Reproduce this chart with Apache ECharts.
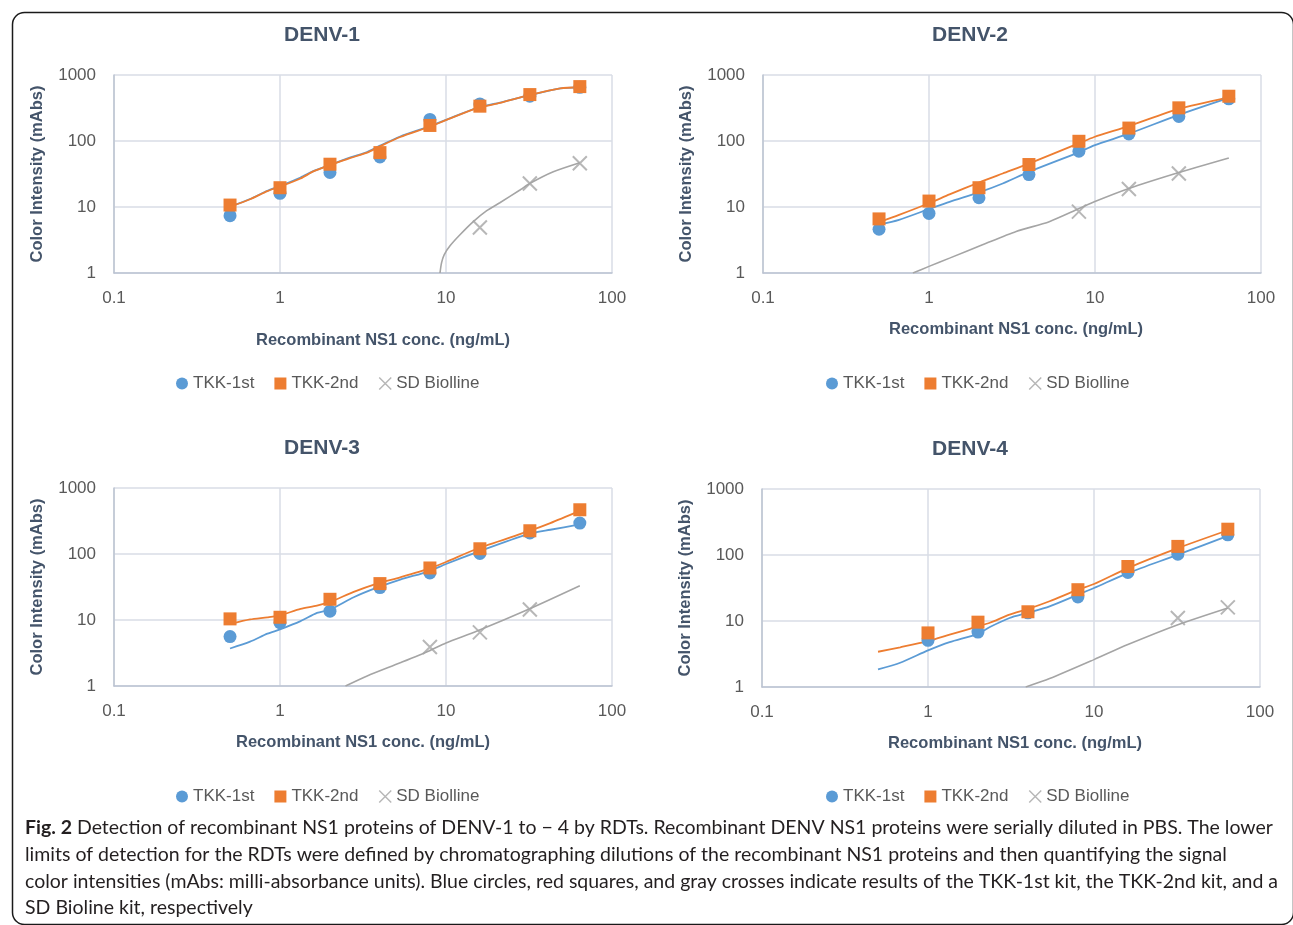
<!DOCTYPE html>
<html><head><meta charset="utf-8">
<script src="https://cdn.jsdelivr.net/npm/echarts@6/dist/echarts.min.js"></script>
<style>html,body{margin:0;padding:0;background:#fff}#c{width:1293px;height:925px}</style>
</head><body><div id="c"></div>
<script>
// ---- Data ----
const panelTitles = ['DENV-1', 'DENV-2', 'DENV-3', 'DENV-4'];
const seriesNames = ['TKK-1st', 'TKK-2nd', 'SD Biolline'];
const xTickLabels = ['0.1', '1', '10', '100'];
const yTickLabels = ['1', '10', '100', '1000'];

const conc = [0.5, 1, 2, 4, 8, 16, 32, 64];
const conc4 = [1, 2, 4, 8, 16, 32, 64];

// DENV-1
const d1Tkk1 = [7.4, 16.1, 33.3, 57.4, 212, 365, 477, 650];
const d1Tkk2 = [10.7, 19.6, 44.5, 66.7, 172, 337, 505, 667];
const d1SdX = [16, 32, 64];
const d1Sd = [4.9, 22.7, 46];
const d1FitX = [0.5, 0.66, 0.84, 1, 1.33, 1.6, 2, 2.66, 3.35, 4, 5.3, 7.9, 9.9, 15.4, 21.2, 32, 48.8, 64];
const d1Fit1 = [10.1, 13.2, 17.6, 20.8, 28, 35.2, 43.5, 56.5, 68, 85, 117, 166, 207, 318, 383, 496, 625, 650];
const d1Fit2 = [10.1, 13.1, 17.4, 20.3, 27, 34.9, 43, 55.4, 66.7, 83, 115, 163, 205, 315, 378, 499, 629, 652];
const d1SdFitX = [9.2, 9.4, 9.73, 10.6, 12.1, 14.6, 17.6, 21.1, 27.9, 32.1, 44.3, 64];
const d1SdFit = [1, 1.42, 1.87, 2.6, 3.76, 6.0, 8.8, 11.6, 18.1, 22.9, 34.3, 47];

// DENV-2
const d2Tkk1 = [4.6, 8.0, 13.8, 31, 70, 128, 235, 435];
const d2Tkk2 = [6.6, 12.3, 19.6, 44, 99, 157, 318, 477];
const d2SdX = [8, 16, 32];
const d2Sd = [8.5, 18.7, 32.2];
const d2FitX = [0.5, 0.66, 1, 1.33, 2, 2.78, 4, 7.9, 9.9, 16, 32, 64];
const d2Fit1 = [5.4, 6.4, 9.3, 12, 16.6, 22.7, 34.1, 66.7, 86, 129, 249, 450];
const d2Fit2 = [5.9, 7.6, 11.4, 15.5, 23.5, 32.2, 45.5, 91, 115, 168, 307, 460];
const d2SdFitX = [0.8, 1, 1.33, 2.1, 3.35, 5.3, 7.9, 9.9, 16, 32, 64];
const d2SdFit = [1, 1.26, 1.68, 2.67, 4.25, 6.0, 9.3, 12, 19.1, 33.3, 55.4];

// DENV-3
const d3Tkk1 = [5.6, 9.1, 13.6, 31, 51.6, 102, 208, 294];
const d3Tkk2 = [10.4, 11.0, 20.6, 35.6, 61.4, 120, 225, 468];
const d3SdX = [8, 16, 32];
const d3Sd = [3.9, 6.5, 14.4];
const d3FitX = [0.5, 0.66, 0.84, 1, 1.33, 1.67, 2, 2.78, 3.8, 5.3, 7.9, 10, 15.4, 31.2, 42.5, 64];
const d3Fit1 = [3.7, 4.7, 6.2, 7.2, 9.6, 12.8, 14.4, 22.1, 30.6, 41, 54.7, 70.6, 107, 200, 233, 280];
const d3Fit2 = [8.7, 10.2, 11.0, 11.8, 14.7, 16.5, 18.8, 26.6, 35.2, 44.4, 60, 75.7, 120, 220, 294, 450];
const d3SdFitX = [2.48, 3.35, 5.3, 7.9, 10, 15.4, 31.2, 64];
const d3SdFit = [1, 1.42, 2.25, 3.4, 4.5, 6.8, 14.4, 33];

// DENV-4
const d4Tkk1 = [5.1, 6.8, 13.3, 23.1, 54.5, 103, 202];
const d4Tkk2 = [6.6, 9.6, 13.8, 29.8, 67, 135, 246];
const d4SdX = [32, 64];
const d4Sd = [11.1, 16.1];
const d4FitX = [0.5, 0.68, 1, 1.35, 2, 2.36, 3.1, 4, 5.4, 8, 10, 16, 32, 64];
const d4Fit1 = [1.85, 2.33, 3.58, 4.78, 6.4, 8.1, 11.1, 13.3, 16.7, 25.1, 31.6, 53.2, 101, 195];
const d4Fit2 = [3.42, 4.0, 4.95, 6.2, 8.3, 9.4, 12.5, 15.2, 19.9, 29.8, 36.3, 63.4, 127, 237];
const d4SdFitX = [3.88, 5.4, 10, 16, 32, 64];
const d4SdFit = [1, 1.34, 2.6, 4.4, 8.8, 15.8];

const captionLines = [
  ['Fig. 2', ' Detection of recombinant NS1 proteins of DENV-1 to \u2212 4 by RDTs. Recombinant DENV NS1 proteins were serially diluted in PBS. The lower'],
  ['', 'limits of detection for the RDTs were defined by chromatographing dilutions of the recombinant NS1 proteins and then quantifying the signal'],
  ['', 'color intensities (mAbs: milli-absorbance units). Blue circles, red squares, and gray crosses indicate results of the TKK-1st kit, the TKK-2nd kit, and a'],
  ['', 'SD Bioline kit, respectively']
];

// ---- Styling / layout ----
const BLUE = '#5b9bd5', ORANGE = '#ed7d31', GRAY = '#a5a5a5';
const FONT = '"Liberation Sans", Arial, sans-serif';
const CROSS = 'path://M0,0L1,1M1,0L0,1';

const panels = [
  {t1: d1Tkk1, t2: d1Tkk2, x1: conc, sdX: d1SdX, sd: d1Sd, fx: d1FitX, f1: d1Fit1, f2: d1Fit2, sfx: d1SdFitX, sf: d1SdFit,
   grid: {left: 114, top: 75}, title: [322, 25], xPad: 40, xGap: 59, legend: [171, 370]},
  {t1: d2Tkk1, t2: d2Tkk2, x1: conc, sdX: d2SdX, sd: d2Sd, fx: d2FitX, f1: d2Fit1, f2: d2Fit2, sfx: d2SdFitX, sf: d2SdFit,
   grid: {left: 763, top: 75}, title: [970, 25], xPad: 8, xGap: 48, legend: [821, 370]},
  {t1: d3Tkk1, t2: d3Tkk2, x1: conc, sdX: d3SdX, sd: d3Sd, fx: d3FitX, f1: d3Fit1, f2: d3Fit2, sfx: d3SdFitX, sf: d3SdFit,
   grid: {left: 114, top: 488}, title: [322, 438], xPad: 0, xGap: 48, legend: [171, 783]},
  {t1: d4Tkk1, t2: d4Tkk2, x1: conc4, sdX: d4SdX, sd: d4Sd, fx: d4FitX, f1: d4Fit1, f2: d4Fit2, sfx: d4SdFitX, sf: d4SdFit,
   grid: {left: 762, top: 489}, title: [970, 439], xPad: 8, xGap: 48, legend: [821, 783]}
];

const zip = (xs, ys) => xs.map((x, i) => [x, ys[i]]);

const option = {
  backgroundColor: '#fff',
  animation: false,
  textStyle: {fontFamily: FONT},
  title: [], grid: [], xAxis: [], yAxis: [], legend: [], series: [],
  graphic: []
};

panels.forEach((p, i) => {
  option.title.push({
    text: panelTitles[i], left: p.title[0] - 5, top: p.title[1] - 5, textAlign: 'center',
    textStyle: {fontFamily: FONT, fontSize: 21, fontWeight: 'bold', color: '#44546a'}
  });
  option.grid.push({left: p.grid.left, top: p.grid.top, width: 498, height: 198});
  const axisCommon = {
    type: 'log', logBase: 10,
    axisLine: {show: true, lineStyle: {color: '#bcc4d2', width: 1.5}},
    axisTick: {show: false},
    splitLine: {show: true, lineStyle: {color: '#d9dde6', width: 1.5}},
    nameTextStyle: {fontFamily: FONT, fontSize: 16.5, fontWeight: 'bold', color: '#44546a'}
  };
  option.xAxis.push(Object.assign({}, axisCommon, {
    gridIndex: i, min: 0.1, max: 100,
    axisLabel: {color: '#595959', fontSize: 17, margin: 17, formatter: v => xTickLabels[Math.round(Math.log10(v)) + 1]},
    name: 'Recombinant NS1 conc. (ng/mL)', nameLocation: 'middle', nameGap: p.xGap,
    nameTextStyle: {fontFamily: FONT, fontSize: 16.5, fontWeight: 'bold', color: '#44546a', padding: [0, 0, 0, p.xPad]}
  }));
  option.yAxis.push(Object.assign({}, axisCommon, {
    gridIndex: i, min: 1, max: 1000,
    axisLabel: {color: '#595959', fontSize: 17, margin: 18, formatter: v => yTickLabels[Math.round(Math.log10(v))]},
    name: 'Color Intensity (mAbs)', nameLocation: 'middle', nameGap: 68, nameRotate: 90
  }));
  option.legend.push({
    left: p.legend[0], top: p.legend[1], itemWidth: 12, itemHeight: 12, itemGap: 20,
    textStyle: {fontFamily: FONT, fontSize: 17, color: '#595959'},
    data: [
      {name: seriesNames[0], icon: 'circle'},
      {name: seriesNames[1], icon: 'rect'},
      {name: seriesNames[2], icon: CROSS, itemStyle: {color: GRAY, borderColor: GRAY, borderWidth: 1.5}}
    ]
  });
  const lineBase = {type: 'line', xAxisIndex: i, yAxisIndex: i, showSymbol: false, symbol: 'none', smooth: 0.25, silent: true};
  option.series.push(Object.assign({}, lineBase, {name: 'SD fit ' + i, data: zip(p.sfx, p.sf), lineStyle: {color: GRAY, width: 1.6}, z: 2}));
  option.series.push(Object.assign({}, lineBase, {name: 'TKK-1st fit ' + i, data: zip(p.fx, p.f1), lineStyle: {color: BLUE, width: 1.8}, z: 2}));
  option.series.push(Object.assign({}, lineBase, {name: 'TKK-2nd fit ' + i, data: zip(p.fx, p.f2), lineStyle: {color: ORANGE, width: 1.8}, z: 2}));
  option.series.push({type: 'scatter', name: seriesNames[2], xAxisIndex: i, yAxisIndex: i, symbol: CROSS, symbolSize: 14,
    itemStyle: {color: GRAY, borderColor: GRAY, borderWidth: 2}, data: zip(p.sdX, p.sd), z: 3});
  option.series.push({type: 'scatter', name: seriesNames[0], xAxisIndex: i, yAxisIndex: i, symbol: 'circle', symbolSize: 13,
    itemStyle: {color: BLUE, opacity: 1}, data: zip(p.x1, p.t1), z: 3});
  option.series.push({type: 'scatter', name: seriesNames[1], xAxisIndex: i, yAxisIndex: i, symbol: 'rect', symbolSize: 13,
    itemStyle: {color: ORANGE, opacity: 1}, data: zip(p.x1, p.t2), z: 4});
});

// Frame
option.graphic.push({type: 'rect', left: 10, top: 10, shape: {width: 1281, height: 912, r: 12}, silent: true,
  style: {fill: 'none', stroke: '#1a1a1a', lineWidth: 1.5}, z: 0});
// Caption
captionLines.forEach((ln, k) => {
  option.graphic.push({type: 'text', left: 25, top: 818 + k * 26.7, silent: true,
    style: {text: (ln[0] ? '{b|' + ln[0] + '}' : '') + ln[1], font: '19.5px Lato, "Noto Sans", sans-serif', fill: '#231f20',
      rich: {b: {font: 'bold 19.5px Lato, "Noto Sans", sans-serif', fill: '#231f20'}}}});
});

const chart = echarts.init(document.getElementById('c'), null, {renderer: 'canvas'});
chart.setOption(option);
</script></body></html>
